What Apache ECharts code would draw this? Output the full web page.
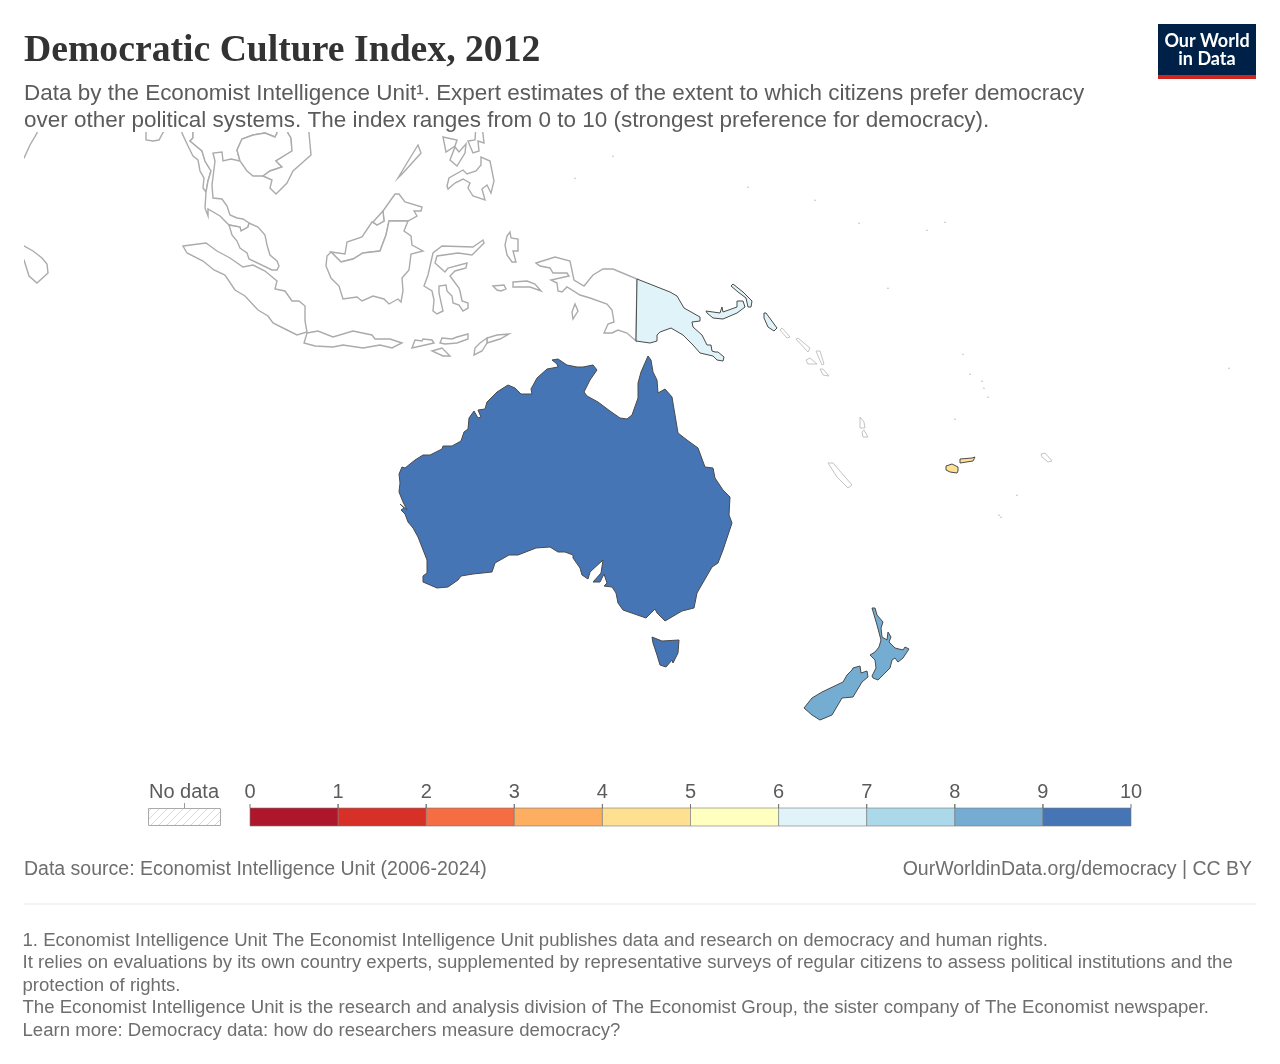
<!DOCTYPE html>
<html>
<head>
<meta charset="utf-8">
<title>Democratic Culture Index, 2012</title>
<script src="https://cdn.jsdelivr.net/npm/echarts@6/dist/echarts.min.js"></script>
<style>
  html, body { margin: 0; padding: 0; background: #fff; }
  #chart { width: 1280px; height: 1064px; }
</style>
</head>
<body>
<div id="chart"></div>
<script>
// values
const countries = ['Australia', 'New Zealand', 'Papua New Guinea', 'Fiji'];
const cultureValues = [9.38, 8.13, 6.25, 4.5];

// legend
const legendTicks = [0, 1, 2, 3, 4, 5, 6, 7, 8, 9, 10];
const legendColors = ['#ae172b', '#d73027', '#f46d43', '#fdae61', '#fee090', '#ffffbf', '#e0f3f8', '#abd9e9', '#74add1', '#4575b4'];

// texts
const titleText = 'Democratic Culture Index, 2012';
const subtitleLines = [
  'Data by the Economist Intelligence Unit¹. Expert estimates of the extent to which citizens prefer democracy',
  'over other political systems. The index ranges from 0 to 10 (strongest preference for democracy).'
];
const sourceText = 'Data source: Economist Intelligence Unit (2006-2024)';
const licenceText = 'OurWorldinData.org/democracy | CC BY';
const noteLines = [
  '1. Economist Intelligence Unit The Economist Intelligence Unit publishes data and research on democracy and human rights.',
  'It relies on evaluations by its own country experts, supplemented by representative surveys of regular citizens to assess political institutions and the',
  'protection of rights.',
  'The Economist Intelligence Unit is the research and analysis division of The Economist Group, the sister company of The Economist newspaper.',
  'Learn more: Democracy data: how do researchers measure democracy?'
];

// map outlines, traced in map units (see toLonLat)
const australiaMain = [[399,492],[400,483],[399,474],[402,467],[405,468],[415,460],[423,455],[430,455],[442,449],[443,446],[452,446],[461,441],[464,432],[468,429],[469,418],[474,411],[478,418],[481,417],[478,410],[485,409],[487,402],[497,392],[508,385],[515,388],[521,394],[532,394],[531,389],[537,378],[547,369],[558,367],[557,364],[552,360],[558,359],[567,365],[577,367],[583,367],[593,365],[597,370],[590,380],[584,392],[587,396],[598,402],[610,411],[620,418],[627,419],[632,415],[638,398],[638,383],[641,372],[648,356],[651,360],[653,372],[657,380],[658,393],[665,389],[672,397],[675,415],[678,433],[687,440],[698,448],[705,467],[713,468],[715,478],[723,490],[730,497],[729,515],[732,523],[723,550],[718,563],[712,567],[697,593],[694,608],[682,611],[665,621],[657,613],[655,609],[646,618],[623,610],[618,603],[616,593],[612,587],[604,586],[607,583],[604,574],[600,582],[593,582],[601,573],[603,560],[590,572],[588,579],[582,575],[580,568],[573,558],[573,555],[565,552],[558,552],[550,547],[536,548],[518,555],[509,555],[495,563],[492,572],[473,574],[461,576],[458,580],[448,587],[437,588],[423,582],[423,576],[427,573],[427,560],[418,537],[413,528],[408,522],[405,514],[401,510],[404,508],[400,504],[407,510],[403,502]];
const tasmania = [[652,637],[662,641],[679,640],[678,653],[673,663],[672,660],[666,667],[660,665],[657,655],[653,643]];
const nzNorth = [[872,608],[875,608],[877,615],[883,622],[881,628],[882,637],[887,640],[888,632],[891,637],[889,642],[895,648],[903,650],[905,647],[909,649],[903,658],[898,662],[895,658],[892,660],[890,668],[878,680],[873,678],[872,676],[876,668],[875,660],[870,655],[875,652],[879,647],[881,640],[877,625]];
const nzSouth = [[852,670],[853,668],[860,666],[861,673],[867,671],[868,677],[862,682],[853,697],[842,698],[832,715],[820,720],[812,715],[804,708],[812,698],[822,692],[843,682],[847,675]];
const pngMain = [[637,279],[670,292],[677,296],[684,308],[700,317],[700,321],[692,322],[693,327],[702,335],[707,345],[711,345],[712,351],[715,352],[718,352],[724,357],[723,361],[717,360],[713,356],[700,353],[693,345],[683,335],[671,328],[660,332],[657,335],[657,341],[650,343],[636,341]];
const newBritain = [[706,311],[720,313],[722,307],[723,312],[737,307],[737,301],[743,301],[745,307],[737,313],[723,319],[713,318],[707,313]];
const newIreland = [[731,286],[733,284],[743,292],[752,301],[751,307],[748,307],[746,298],[738,292]];
const bougainville = [[764,313],[766,313],[777,328],[774,331],[768,327],[764,318]];
const vitiLevu = [[946,466],[952,464],[958,467],[958,471],[957,473],[950,472],[946,470]];
const vanuaLevu = [[960,459],[972,458],[975,457],[973,461],[960,463]];

const myanmar = [[182,120],[182,133],[188,146],[193,156],[198,160],[200,171],[204,178],[203,188],[206,192],[208,181],[211,171],[205,161],[202,151],[190,141],[193,138],[193,133],[193,120]];
const thailand = [[193,120],[193,133],[193,138],[190,141],[202,151],[205,161],[211,171],[208,181],[206,192],[205,208],[208,216],[208,209],[220,216],[229,225],[240,227],[241,231],[248,227],[249,223],[243,219],[237,218],[230,215],[227,206],[222,199],[213,198],[212,185],[215,161],[213,153],[222,152],[223,161],[231,159],[240,161],[237,150],[242,139],[253,135],[265,133],[275,137],[277,133],[277,120]];
const laosCambodia = [[277,120],[277,133],[275,137],[265,133],[253,135],[242,139],[237,150],[240,161],[247,171],[253,176],[263,176],[270,171],[282,167],[276,161],[292,151],[291,138],[288,133],[288,120]];
const vietnam = [[288,120],[288,133],[291,138],[292,151],[276,161],[282,167],[270,171],[263,176],[272,180],[270,188],[276,194],[287,183],[293,171],[311,155],[309,133],[309,120]];
const malayPeninsula = [[229,225],[232,235],[237,241],[240,248],[247,253],[249,259],[272,270],[277,270],[279,266],[277,261],[270,255],[267,245],[265,235],[258,227],[249,223],[248,227],[241,231],[240,227]];
const sabahSarawak = [[331,252],[345,254],[347,242],[362,237],[372,222],[373,222],[377,225],[384,221],[383,211],[395,194],[399,194],[405,202],[422,207],[421,211],[414,211],[417,216],[408,221],[389,221],[386,235],[380,251],[363,253],[353,259],[341,262]];
const brunei = [[373,222],[383,211],[384,221],[377,225]];
const kalimantan = [[331,252],[341,262],[353,259],[363,253],[380,251],[386,235],[389,221],[408,221],[404,231],[411,236],[412,245],[423,251],[411,254],[409,270],[402,278],[403,291],[401,302],[398,299],[389,304],[384,299],[373,296],[362,301],[357,297],[343,299],[339,286],[331,278],[326,266],[327,256]];
const sumatra = [[183,246],[206,243],[217,251],[230,258],[243,267],[253,265],[265,271],[277,281],[275,289],[285,291],[292,301],[299,301],[305,306],[305,321],[307,332],[297,335],[287,330],[273,323],[268,316],[258,310],[245,296],[235,290],[225,275],[214,270],[203,261],[187,253]];
const java = [[307,333],[318,331],[333,337],[353,331],[372,335],[375,339],[390,339],[402,343],[392,348],[380,345],[363,348],[343,345],[333,347],[315,346],[304,343]];
const sulawesi = [[442,246],[473,247],[483,240],[484,243],[472,255],[458,253],[437,256],[435,263],[445,272],[448,268],[467,263],[466,268],[455,271],[450,276],[459,288],[460,291],[462,301],[468,303],[468,308],[463,311],[459,305],[453,303],[452,296],[447,291],[446,285],[439,286],[439,293],[443,311],[437,314],[433,311],[434,300],[432,291],[424,286],[428,275],[433,253]];
const halmahera = [[510,232],[511,238],[518,239],[518,251],[513,251],[516,262],[512,262],[507,255],[505,245],[507,236]];
const buru = [[493,286],[504,285],[506,289],[501,291],[497,290]];
const ceram = [[513,282],[527,281],[535,284],[541,291],[530,287],[513,287]];
const westPapua = [[536,263],[555,257],[570,261],[574,280],[584,286],[593,275],[603,269],[613,269],[637,279],[636,341],[627,333],[618,330],[612,333],[604,333],[608,324],[614,322],[612,310],[607,304],[590,298],[580,295],[567,287],[562,292],[558,291],[557,283],[551,280],[569,276],[567,273],[553,273],[550,268],[540,266]];
const aru = [[575,304],[578,311],[573,319],[572,312]];
const lombok = [[412,348],[415,340],[422,341],[423,339],[432,340],[434,343]];
const sumbawa = [[440,343],[442,338],[452,339],[457,337],[468,334],[468,339],[457,343],[445,344]];
const sumba = [[432,351],[442,348],[450,356],[443,356]];
const timorLeste = [[509,334],[497,335],[487,338],[487,343],[500,339]];
const westTimor = [[487,338],[487,343],[482,351],[474,355],[475,348],[480,343]];
const palawan = [[418,145],[421,153],[403,173],[398,178],[407,163]];
const panay = [[443,137],[457,140],[455,146],[446,152]];
const negros = [[450,160],[455,147],[459,152],[466,144],[465,153],[457,166]];
const samar = [[468,141],[475,140],[476,125],[482,125],[484,143],[478,141],[479,151],[473,153],[470,146]];
const mindanao = [[447,186],[449,178],[463,170],[467,174],[476,171],[481,165],[481,157],[490,161],[494,181],[491,193],[487,185],[482,189],[485,200],[473,196],[468,188],[470,183],[463,179],[455,183],[448,189]];
const indiaCoast = [[37,125],[37,133],[30,145],[24,158],[10,158],[10,125]];
const sriLanka = [[10,244],[24,246],[33,251],[42,258],[47,264],[48,273],[37,283],[29,276],[24,260],[10,260]];
const hainan = [[146,125],[146,140],[153,141],[159,140],[167,125]];
const solomonA = [[780,330],[782,328],[790,337],[787,338]];
const solomonB = [[796,339],[798,338],[810,348],[808,352]];
const solomonC = [[816,351],[820,351],[824,364],[822,365]];
const solomonD = [[806,360],[810,358],[817,364],[808,364]];
const solomonE = [[820,369],[823,369],[829,376],[823,375]];
const vanuatuA = [[860,417],[864,422],[865,428],[860,428]];
const vanuatuB = [[862,432],[864,430],[868,437],[863,437]];
const newCaledonia = [[828,463],[833,463],[852,485],[848,488],[837,477]];
const samoa = [[1041,454],[1045,453],[1052,461],[1048,462],[1042,457]];
const specks = [[613,156],[575,178],[748,187],[815,200],[859,223],[927,230],[945,222],[888,288],[963,354],[970,374],[982,381],[984,388],[988,397],[955,419],[1017,495],[999,515],[1001,517],[1229,368]];

const noDataShapes = [myanmar, thailand, laosCambodia, vietnam, malayPeninsula, sabahSarawak, brunei, kalimantan, sumatra, java, sulawesi, halmahera, buru, ceram, westPapua, aru, lombok, sumbawa, sumba, timorLeste, westTimor, palawan, panay, negros, samar, mindanao, indiaCoast, sriLanka, hainan];
const smallIslands = [solomonA, solomonB, solomonC, solomonD, solomonE, vanuatuA, vanuatuB, newCaledonia, samoa];
const countryShapes = [
  [australiaMain, tasmania],
  [nzNorth, nzSouth],
  [pngMain, newBritain, newIreland, bougainville],
  [vitiLevu, vanuaLevu]
];

const toLonLat = ([x, y]) => [63 + x / 8, 25 - y / 10];
const feature = (name, rings) => ({
  type: 'Feature',
  properties: { name },
  geometry: { type: 'MultiPolygon', coordinates: rings.map(r => [r.map(toLonLat)]) }
});
const speckRing = ([x, y]) => [[x - 0.8, y], [x, y - 0.8], [x + 0.8, y], [x, y + 0.8]];

echarts.registerMap('oceania', {
  type: 'FeatureCollection',
  features: [
    ...noDataShapes.map((s, i) => feature('nodata' + i, [s])),
    feature('smallIslands', smallIslands),
    feature('specks', specks.map(speckRing)),
    ...countries.map((c, i) => feature(c, countryShapes[i]))
  ]
});

// hatch for the no data swatch
const hatch = document.createElement('canvas');
hatch.width = 8;
hatch.height = 8;
const hctx = hatch.getContext('2d');
hctx.strokeStyle = '#d9d9d9';
hctx.lineWidth = 1;
hctx.beginPath();
hctx.moveTo(-1, 9); hctx.lineTo(9, -1);
hctx.moveTo(-1, 1); hctx.lineTo(1, -1);
hctx.moveTo(7, 9); hctx.lineTo(9, 7);
hctx.stroke();

const grey = '#5b5b5b';
const soft = '#6e6e6e';
const sans = '"Liberation Sans", Arial, sans-serif';

const textTitle = (text, left, top, size, color, extra) => ({
  text, left, top,
  padding: 0,
  textStyle: Object.assign({ fontFamily: sans, fontSize: size, fontWeight: 'normal', color }, extra)
});

const chart = echarts.init(document.getElementById('chart'));
chart.setOption({
  animation: false,
  backgroundColor: '#fff',
  title: [
    textTitle(titleText, 24, 32, 37.7, '#333', { fontFamily: '"Liberation Serif", serif', fontWeight: 'bold' }),
    textTitle(subtitleLines[0], 24, 82.5, 22.47, grey),
    textTitle(subtitleLines[1], 24, 109.5, 22.47, grey),
    textTitle(sourceText, 24, 860, 19.5, soft),
    Object.assign(textTitle(licenceText, 0, 860, 19.5, soft), { left: undefined, right: 28 }),
    ...noteLines.map((l, i) => textTitle(l, 22.5, [931, 953, 976, 998, 1021][i], 18.58, soft))
  ],
  visualMap: {
    show: false,
    type: 'piecewise',
    seriesIndex: 0,
    pieces: legendColors.map((color, i) => ({ gte: legendTicks[i], lt: legendTicks[i + 1], color }))
  },
  grid: { left: 250, top: 808, width: 881, height: 18 },
  xAxis: {
    type: 'value',
    position: 'top',
    min: 0,
    max: 10,
    interval: 1,
    splitLine: { show: false },
    axisLine: { show: false },
    axisTick: { show: false },
    axisLabel: { fontFamily: sans, fontSize: 20, color: grey, margin: 6, hideOverlap: false }
  },
  yAxis: { type: 'value', min: 0, max: 1, show: false },
  series: [
    {
      type: 'map',
      map: 'oceania',
      silent: true,
      left: 0,
      top: 0,
      width: 1280,
      height: 1064,
      aspectScale: 0.8,
      boundingCoords: [[63, 25], [223, -81.4]],
      label: { show: false },
      selectedMode: false,
      itemStyle: { areaColor: '#fff', borderColor: '#ababab', borderWidth: 1.4 },
      data: [
        ...countries.map((name, i) => ({
          name,
          value: cultureValues[i],
          itemStyle: { borderColor: '#4a4a4a', borderWidth: 1 }
        })),
        { name: 'smallIslands', itemStyle: { areaColor: '#fff', borderColor: '#c4c4c4', borderWidth: 1 } },
        { name: 'specks', itemStyle: { areaColor: '#bbb', borderColor: '#bbb', borderWidth: 0.5 } }
      ]
    },
    {
      type: 'custom',
      coordinateSystem: 'cartesian2d',
      silent: true,
      data: legendColors.map((c, i) => [legendTicks[i], legendTicks[i + 1]]),
      renderItem: (params, api) => {
        const a = api.coord([api.value(0), 1]);
        const b = api.coord([api.value(1), 0]);
        const tickAt = x => ({
          type: 'line',
          shape: { x1: x, y1: a[1] - 4, x2: x, y2: a[1] },
          style: { stroke: '#777', lineWidth: 1 }
        });
        return {
          type: 'group',
          children: [
            {
              type: 'rect',
              shape: { x: a[0], y: a[1], width: b[0] - a[0], height: b[1] - a[1] },
              style: { fill: legendColors[params.dataIndex], stroke: '#777', lineWidth: 0.6 }
            },
            tickAt(a[0]),
            tickAt(b[0])
          ]
        };
      }
    }
  ],
  graphic: [
    // the map runs on under the header and off the left edge
    { type: 'rect', z: 3, shape: { x: 0, y: 0, width: 1280, height: 132 }, style: { fill: '#fff' } },
    { type: 'rect', z: 3, shape: { x: 0, y: 0, width: 24, height: 800 }, style: { fill: '#fff' } },
    // logo
    { type: 'rect', z: 7, shape: { x: 1158, y: 24, width: 98, height: 55 }, style: { fill: '#002147' } },
    { type: 'rect', z: 7, shape: { x: 1158, y: 75, width: 98, height: 4 }, style: { fill: '#ce261e' } },
    { type: 'text', z: 8, x: 1207, y: 41, style: { text: 'Our World', fill: '#fff', font: 'bold 18px Lato, sans-serif', textAlign: 'center', textVerticalAlign: 'middle' } },
    { type: 'text', z: 8, x: 1207, y: 59, style: { text: 'in Data', fill: '#fff', font: 'bold 18px Lato, sans-serif', textAlign: 'center', textVerticalAlign: 'middle' } },
    // no data swatch
    { type: 'rect', z: 7, shape: { x: 148.5, y: 808.5, width: 72, height: 17 }, style: { fill: { type: 'pattern', image: hatch, repeat: 'repeat' }, stroke: '#aaa', lineWidth: 1 } },
    { type: 'line', z: 7, shape: { x1: 184.5, y1: 803, x2: 184.5, y2: 808 }, style: { stroke: '#999', lineWidth: 1 } },
    { type: 'text', z: 7, x: 184, y: 792, style: { text: 'No data', fill: grey, font: '20px "Liberation Sans", Arial, sans-serif', textAlign: 'center', textVerticalAlign: 'middle' } },
    // rule above the notes
    { type: 'line', z: 7, shape: { x1: 24, y1: 904, x2: 1256, y2: 904 }, style: { stroke: '#e7e7e7', lineWidth: 1 } }
  ]
});
</script>
</body>
</html>
